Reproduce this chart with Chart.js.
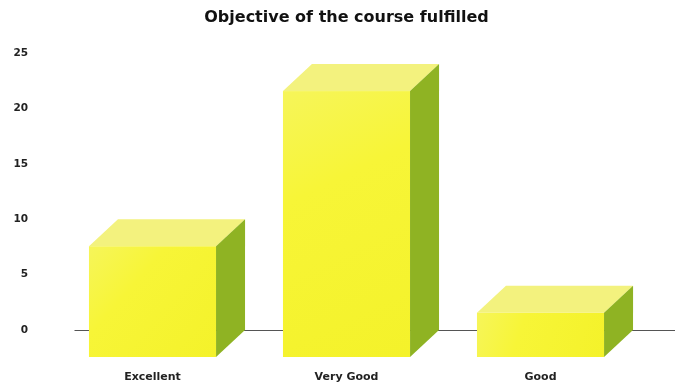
<!DOCTYPE html>
<html>
<head>
<meta charset="utf-8">
<style>
  html, body { margin: 0; padding: 0; background: #fff; }
  #wrap { width: 678px; height: 387px; }
</style>
</head>
<body>
<div id="wrap"><canvas id="Grafica"></canvas></div>
<script src="https://cdn.jsdelivr.net/npm/chart.js"></script>
<script>
// respuestas por categoría
const categorias = ["Excellent", "Very Good", "Good"];
const respuestas = [10, 24, 4];
const ejeMax = 25;
const ejePaso = 5;

// profundidad del efecto 3D (px)
const prof = { dx: 29, dy: 27 };

const barras3D = {
  id: "barras3D",
  beforeDatasetsDraw(chart) {
    // linea del cero en el plano del fondo
    const ctx = chart.ctx;
    const y0 = Math.round(chart.scales.y.getPixelForValue(0)) + 0.5;
    ctx.save();
    ctx.strokeStyle = "#555";
    ctx.lineWidth = 1;
    ctx.beginPath();
    ctx.moveTo(chart.chartArea.left + 19, y0);
    ctx.lineTo(chart.width - 3, y0);
    ctx.stroke();
    ctx.restore();
  },
  afterDatasetsDraw(chart) {
    const ctx = chart.ctx;
    chart.getDatasetMeta(0).data.forEach(bar => {
      const w = bar.width;
      const x0 = bar.x - w / 2, x1 = bar.x + w / 2;
      const top = bar.y + prof.dy, bottom = bar.base + prof.dy;
      ctx.save();
      // cara frontal
      const g = ctx.createLinearGradient(x0, top, x1, bottom);
      g.addColorStop(0, "#f6f55a");
      g.addColorStop(0.35, "#f7f537");
      g.addColorStop(1, "#f4f22a");
      ctx.fillStyle = g;
      ctx.fillRect(x0, top, w, bottom - top);
      // cara superior
      ctx.fillStyle = "#f3f27e";
      ctx.beginPath();
      ctx.moveTo(x0, top);
      ctx.lineTo(x0 + prof.dx, bar.y);
      ctx.lineTo(x1 + prof.dx, bar.y);
      ctx.lineTo(x1, top);
      ctx.closePath();
      ctx.fill();
      // cara lateral
      ctx.fillStyle = "#8fb323";
      ctx.beginPath();
      ctx.moveTo(x1, top);
      ctx.lineTo(x1 + prof.dx, bar.y);
      ctx.lineTo(x1 + prof.dx, bar.base);
      ctx.lineTo(x1, bottom);
      ctx.closePath();
      ctx.fill();
      ctx.restore();
    });
  }
};

new Chart(document.getElementById("Grafica"), {
  type: "bar",
  data: {
    labels: categorias,
    datasets: [{
      label: "Respuestas",
      data: respuestas,
      backgroundColor: "rgba(0,0,0,0)",
      barPercentage: 0.655,
      categoryPercentage: 1
    }]
  },
  options: {
    responsive: true,
    maintainAspectRatio: false,
    animation: false,
    layout: { padding: { left: 10, right: 40.5, top: 0, bottom: 0 } },
    plugins: {
      legend: { display: false },
      tooltip: { enabled: false },
      title: {
        display: true,
        fullSize: false,
        text: "Objective of the course fulfilled",
        color: "#111",
        font: { family: "DejaVu Sans", size: 16, weight: "bold" },
        padding: { top: 8.4, bottom: 25.4 }
      }
    },
    scales: {
      x: {
        grid: { display: false, drawTicks: false },
        border: { display: false },
        ticks: {
          color: "#222",
          padding: 40.4,
          font: { family: "DejaVu Sans", size: 11, weight: "bold" }
        },
        afterFit(scale) { scale.height = 57; }
      },
      y: {
        min: 0,
        max: ejeMax,
        grid: { display: false, drawTicks: false },
        border: { display: false },
        ticks: {
          stepSize: ejePaso,
          color: "#222",
          padding: 27.5,
          font: { family: "DejaVu Sans", size: 10.5, weight: "bold" }
        },
        afterFit(scale) { scale.width = 45.5; }
      }
    }
  },
  plugins: [barras3D]
});
</script>
</body>
</html>
